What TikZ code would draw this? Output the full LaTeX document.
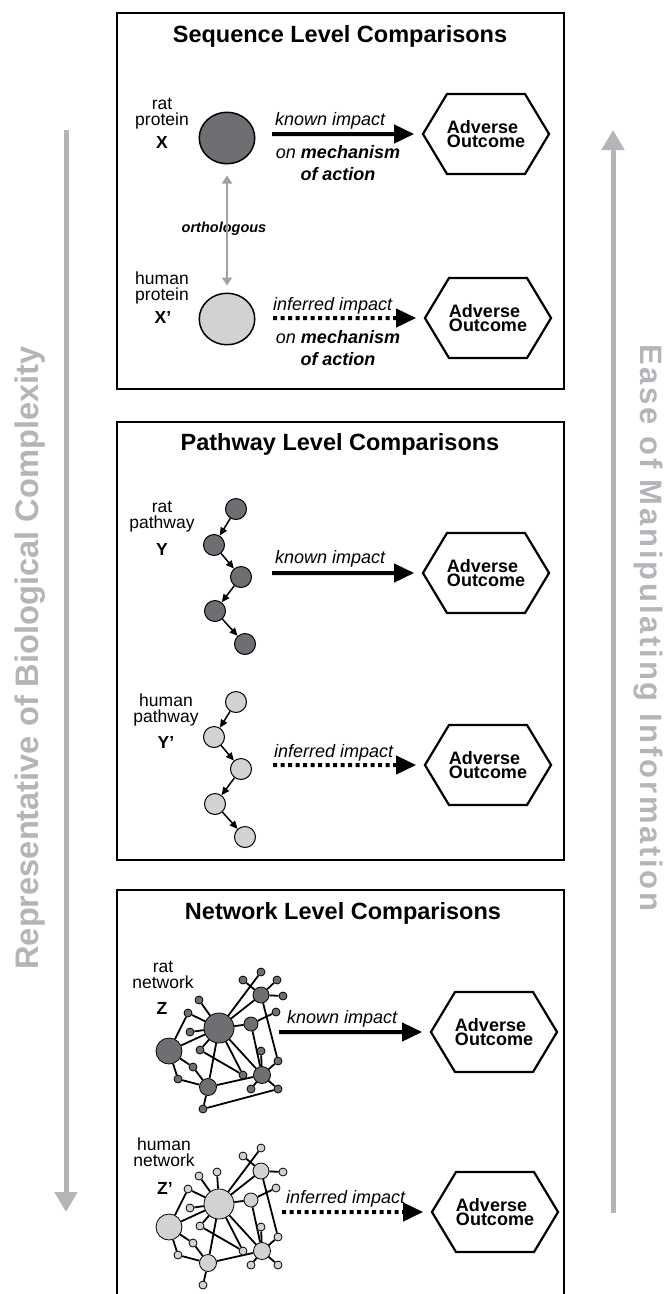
\documentclass[tikz,border=0pt]{standalone}
\usepackage{fontspec}
\setmainfont{Liberation Sans}
\newfontfamily\easefont[LetterSpace=9]{Liberation Sans}
\usetikzlibrary{arrows.meta,shapes.geometric,shapes.symbols,backgrounds}

\definecolor{ratgray}{RGB}{110,111,115}
\definecolor{humangray}{RGB}{209,210,212}
\definecolor{axisgray}{RGB}{180,181,185}
\definecolor{orthgray}{RGB}{160,161,165}

\tikzset{
  panel/.style={line width=1.6pt},
  title/.style={anchor=base, inner sep=0pt, font=\fontsize{23.5}{28}\selectfont\bfseries},
  species/.style={anchor=base, inner sep=0pt, align=center, font=\fontsize{17.5}{15.5}\selectfont},
  symb/.style={anchor=base, inner sep=0pt, font=\fontsize{17.5}{20}\selectfont\bfseries},
  protein/.style={draw, line width=1.5pt, ellipse, minimum width=55.5pt, minimum height=51.5pt, inner sep=0pt},
  pathnode/.style={draw, line width=1pt, circle, minimum size=21pt, inner sep=0pt},
  netnode/.style={draw, line width=0.8pt, circle, inner sep=0pt},
  netlink/.style={line width=1.8pt},
  pathlink/.style={line width=1.5pt, -{Triangle[length=8pt,width=7pt]}},
  hex/.style={draw, line width=2.2pt, shape=signal, signal to=east and west,
    signal pointer angle=118, minimum width=120pt, minimum height=80pt,
    inner sep=0pt, align=left, font=\fontsize{18}{14.5}\selectfont\bfseries},
  known/.style={line width=4pt, shorten >=7.5pt, -{Triangle[length=20pt,width=18pt]}},
  inferred/.style={known, dash pattern=on 4pt off 3.5pt},
  effect/.style={anchor=base west, inner sep=0pt, font=\fontsize{18}{22}\selectfont\itshape},
  mech/.style={anchor=base, inner sep=0pt, align=center, font=\fontsize{18}{22}\selectfont\itshape},
  axis/.style={draw=axisgray, line width=5pt, -{Triangle[length=20pt,width=22pt]}},
  axislabel/.style={text=axisgray, inner sep=0pt},
}

\begin{document}
\begin{tikzpicture}[x=1pt,y=-1pt]
\useasboundingbox (0,0) rectangle (666,1294);

% side axes
\coordinate (axL0) at (66,130);
\coordinate (axL1) at (66,1212);
\draw[axis] (axL0) -- (axL1);
\node[axislabel, rotate=90, font=\fontsize{32.6}{36}\selectfont\bfseries] (repr) at (30,658) {Representative of Biological Complexity};
\coordinate (axR0) at (613,1213);
\coordinate (axR1) at (613,130);
\draw[axis] (axR0) -- (axR1);
\node[axislabel, rotate=-90, font=\fontsize{31}{36}\easefont\bfseries] (ease) at (648,628) {Ease of Manipulating Information};

% panels
\draw[panel] (117,13) rectangle (564,389);
\draw[panel] (117,422) rectangle (564,860);
\draw[panel] (117,1294) -- (117,890) -- (564,890) -- (564,1294);

%% sequence level
\node[title] (tSeq) at (340,42) {Sequence Level Comparisons};

\node[species] (lX) at (162,125) {rat\\protein};
\node[symb] (sX) at (162,148) {X};
\node[protein, fill=ratgray] (pX) at (227,138) {};
\node[hex] (hX) at (486,134) {Adverse\\Outcome};
\coordinate (kX) at (272,134);
\draw[known] (kX) -- (hX);
\node[effect] (eX) at (275,125) {known impact};
\node[mech] (mX) at (338,180) {on \textbf{mechanism}\\\textbf{of action}};

\node[species] (lHX) at (162,300) {human\\protein};
\node[symb] (sHX) at (163,323) {X’};
\node[protein, fill=humangray] (pHX) at (227,319) {};
\node[hex] (hHX) at (488,318) {Adverse\\Outcome};
\coordinate (iX) at (273,318);
\draw[inferred] (iX) -- (hHX);
\node[effect] (eHX) at (273,310) {inferred impact};
\node[mech] (mHX) at (338,365) {on \textbf{mechanism}\\\textbf{of action}};

\node[anchor=base, inner sep=0pt, font=\fontsize{14.5}{16}\selectfont\bfseries\itshape] (orth) at (224,232) {orthologous};
\draw[draw=orthgray, line width=2.6pt, shorten <=11pt, shorten >=7pt,
  {Triangle[length=8pt,width=10pt]}-{Triangle[length=8pt,width=10pt]}] (pX) -- (pHX);

%% pathway level
\node[title] (tPath) at (340,450) {Pathway Level Comparisons};

\node[species] (lY) at (162,528) {rat\\pathway};
\node[symb] (sY) at (162,555) {Y};
\foreach \n/\x/\y in {1/236/509, 2/214/545, 3/241/577, 4/215/611, 5/245/644}
  \node[pathnode, fill=ratgray] (ry\n) at (\x,\y) {};
\foreach \a/\b in {1/2, 2/3, 3/4, 4/5}
  \draw[pathlink] (ry\a) -- (ry\b);
\node[hex] (hY) at (486,573) {Adverse\\Outcome};
\coordinate (kY) at (272,573);
\draw[known] (kY) -- (hY);
\node[effect] (eY) at (275,563) {known impact};

\node[species] (lHY) at (166,722) {human\\pathway};
\node[symb] (sHY) at (166,748) {Y’};
\foreach \n/\x/\y in {1/236/702, 2/214/737, 3/241/769, 4/215/804, 5/245/837}
  \node[pathnode, fill=humangray] (hy\n) at (\x,\y) {};
\foreach \a/\b in {1/2, 2/3, 3/4, 4/5}
  \draw[pathlink] (hy\a) -- (hy\b);
\node[hex] (hHY) at (488,765) {Adverse\\Outcome};
\coordinate (iY) at (273,765);
\draw[inferred] (iY) -- (hHY);
\node[effect] (eHY) at (274,757) {inferred impact};

%% network level
\node[title] (tNet) at (343,919) {Network Level Comparisons};

\node[species] (lZ) at (163,988) {rat\\network};
\node[symb] (sZ) at (162,1014) {Z};
\node[species] (lHZ) at (164,1166) {human\\network};
\node[symb] (sHZ) at (165,1194) {Z’};

\foreach \p/\dy/\col in {r/0/ratgray, h/176/humangray}{
  \foreach \n/\x/\y/\d in {A/219/1028/30, B/169/1051/26, C/261/995/16, D/251/1024/14,
      E/262/1075/17, F/208/1087/17, s1/261/972/8, s2/243/980/8, s4/283/996/8,
      s5/276/1012/8, s6/199/1000/8, s7/188/1013/8, s8/190/1032/8, s9/200/1050/8,
      s10/193/1067/8, s11/178/1079/8, s12/203/1109/8, s13/261/1051/8,
      s14/278/1061/8, s15/243/1075/8, s16/251/1089/8, s17/278/1089/8}
    \node[netnode, fill=\col, minimum size=\d pt] (\p\n) at (\x,\y+\dy) {};
  \begin{pgfonlayer}{background}
  \foreach \a/\b in {A/B, A/s6, A/s7, A/s8, A/s9, A/s1, A/C, A/D, A/F, A/E, A/s15,
      B/s7, B/s10, B/s11, s10/F, s11/F, s9/s15, F/s12, F/E, E/s13, E/s14, E/s16,
      E/s17, s2/C, C/s4, C/s14, D/s5, D/E}
    \draw[netlink] (\p\a) -- (\p\b);
  \end{pgfonlayer}
}
% nodes only one network has
\node[netnode, fill=ratgray, minimum size=8pt] (rs3) at (277,980) {};
\node[netnode, fill=humangray, minimum size=8pt] (hs0) at (217,1172) {};
\begin{pgfonlayer}{background}
\draw[netlink] (rC) -- (rs3);
\draw[netlink] (rs12) -- (rs17);
\draw[netlink] (hs0) -- (hA);
\end{pgfonlayer}

\node[hex] (hZ) at (494,1032) {Adverse\\Outcome};
\coordinate (kZ) at (279,1032);
\draw[known] (kZ) -- (hZ);
\node[effect] (eZ) at (287,1023) {known impact};

\node[hex] (hHZ) at (495,1212) {Adverse\\Outcome};
\coordinate (iZ) at (282,1212);
\draw[inferred] (iZ) -- (hHZ);
\node[effect] (eHZ) at (286,1203) {inferred impact};
\end{tikzpicture}
\end{document}
